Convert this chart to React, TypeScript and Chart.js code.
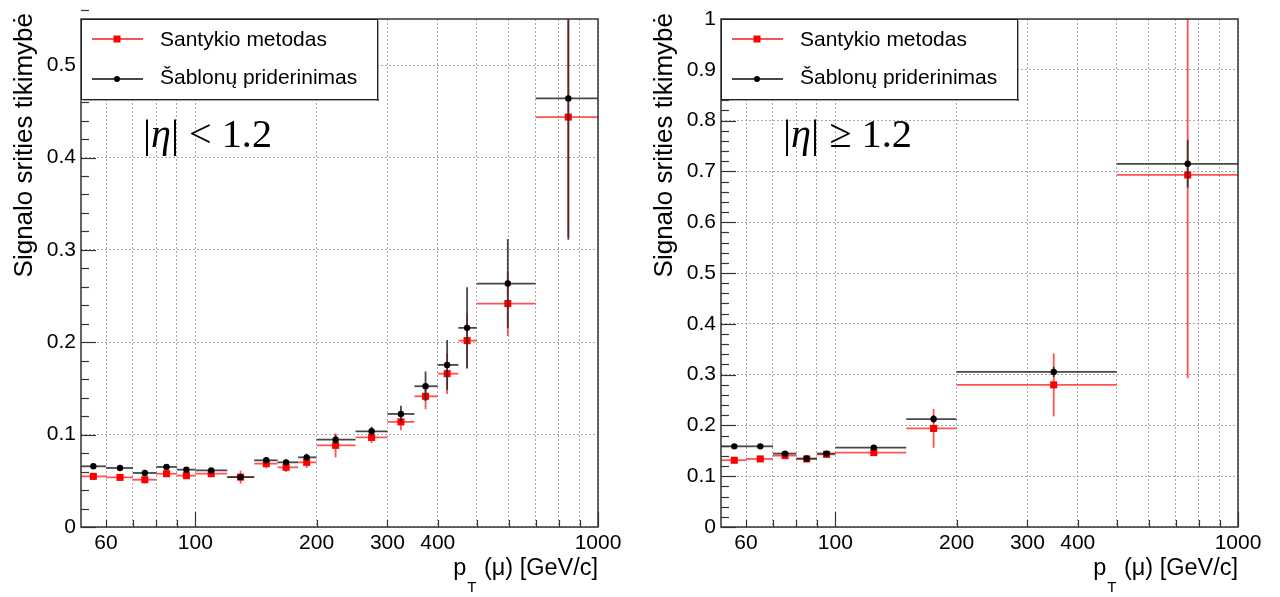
import React, { useEffect, useRef } from "react";
import { Chart, registerables } from "chart.js";
Chart.register(...registerables);

const SANS = "'Liberation Sans', Arial, sans-serif";
const SERIF = "'Liberation Serif', 'Times New Roman', serif";

// ---------- Left panel: |eta| < 1.2 ----------
const leftBinLow = [52, 60, 70, 80, 90, 100, 120, 140, 160, 180, 200, 250, 300, 350, 400, 450, 500, 700];
const leftBinHigh = [60, 70, 80, 90, 100, 120, 140, 160, 180, 200, 250, 300, 350, 400, 450, 500, 700, 1000];
const leftPt = [55.8, 65, 74.9, 84.8, 95, 109.5, 129.5, 150, 168, 189, 223, 274, 324, 373, 422, 473, 597, 844];
const leftRatio = [0.0548, 0.0537, 0.0512, 0.0577, 0.0556, 0.0577, 0.054, 0.0686, 0.0646, 0.07, 0.0884, 0.097, 0.1138, 0.1415, 0.166, 0.2018, 0.2419, 0.4438];
const leftRatioErr = [0.003, 0.003, 0.004, 0.003, 0.003, 0.003, 0.007, 0.005, 0.005, 0.006, 0.013, 0.006, 0.009, 0.014, 0.022, 0.03, 0.035, 0.13];
const leftFit = [0.0657, 0.0639, 0.0585, 0.065, 0.0621, 0.0613, 0.054, 0.0722, 0.07, 0.0754, 0.0946, 0.1036, 0.1224, 0.1524, 0.1755, 0.2156, 0.2636, 0.464];
const leftFitErr = [0.002, 0.002, 0.003, 0.002, 0.002, 0.002, 0.003, 0.003, 0.003, 0.004, 0.005, 0.005, 0.009, 0.016, 0.027, 0.044, 0.048, 0.153];
const leftYTicks = [0, 0.1, 0.2, 0.3, 0.4, 0.5];
const leftYMax = 0.55;
const leftEtaText = ["|", "η", "|", " < 1.2"];

// ---------- Right panel: |eta| >= 1.2 ----------
const rightBinLow = [52, 60, 70, 80, 90, 100, 150, 200, 500];
const rightBinHigh = [60, 70, 80, 90, 100, 150, 200, 500, 1000];
const rightPt = [56.1, 65.1, 75, 84.9, 95.1, 124.6, 175.4, 348.6, 750];
const rightRatio = [0.1314, 0.134, 0.1406, 0.134, 0.143, 0.1464, 0.194, 0.2798, 0.693];
const rightRatioErr = [0.004, 0.004, 0.006, 0.005, 0.006, 0.006, 0.038, 0.062, 0.4];
const rightFit = [0.1588, 0.1588, 0.1445, 0.1347, 0.1445, 0.1563, 0.2125, 0.3053, 0.715];
const rightFitErr = [0.003, 0.003, 0.005, 0.004, 0.004, 0.004, 0.008, 0.01, 0.047];
const rightYTicks = [0, 0.1, 0.2, 0.3, 0.4, 0.5, 0.6, 0.7, 0.8, 0.9, 1];
const rightYMax = 1.0;
const rightEtaText = ["|", "η", "|", " ≥ 1.2"];

// ---------- shared ----------
const xMin = 52;
const xMax = 1000;
const xTickValues = [60, 70, 80, 90, 100, 200, 300, 400, 500, 600, 700, 800, 900, 1000];
const xTickLabels = [60, 100, 200, 300, 400, 1000];
const xMajorTicks = [100, 1000];
const yMinorStep = 0.02;
const legendLabels = ["Santykio metodas", "Šablonų priderinimas"];
const yTitle = "Signalo srities tikimybė";
const xTitleMain = "p";
const xTitleSub = "T";
const xTitleRest = " (μ) [GeV/c]";

type PanelData = {
  binLow: number[];
  binHigh: number[];
  pt: number[];
  ratio: number[];
  ratioErr: number[];
  fit: number[];
  fitErr: number[];
  yTicks: number[];
  yMax: number;
  eta: string[];
};

const RED_LINE = "rgba(255,40,40,0.8)";
const BLACK_LINE = "rgba(40,40,40,0.85)";

function makePlugin(d: PanelData) {
  return {
    id: "rootStyle",
    beforeDatasetDraw(chart: any, args: any) {
      const ctx = chart.ctx;
      const ca = chart.chartArea;
      const xs = chart.scales.x;
      const ys = chart.scales.y;
      const isRed = args.index === 1;
      const vals = isRed ? d.ratio : d.fit;
      const errs = isRed ? d.ratioErr : d.fitErr;
      ctx.save();
      ctx.beginPath();
      ctx.rect(ca.left, ca.top, ca.right - ca.left, ca.bottom - ca.top);
      ctx.clip();
      ctx.strokeStyle = isRed ? RED_LINE : BLACK_LINE;
      ctx.lineWidth = 1.8;
      for (let i = 0; i < vals.length; i++) {
        const y = ys.getPixelForValue(vals[i]);
        const x = xs.getPixelForValue(d.pt[i]);
        ctx.beginPath();
        ctx.moveTo(xs.getPixelForValue(d.binLow[i]), y);
        ctx.lineTo(xs.getPixelForValue(d.binHigh[i]), y);
        ctx.stroke();
        ctx.beginPath();
        ctx.moveTo(x, ys.getPixelForValue(vals[i] - errs[i]));
        ctx.lineTo(x, ys.getPixelForValue(vals[i] + errs[i]));
        ctx.stroke();
      }
      ctx.restore();
    },
    afterDraw(chart: any) {
      const ctx = chart.ctx;
      const ca = chart.chartArea;
      const xs = chart.scales.x;
      const ys = chart.scales.y;
      ctx.save();
      // frame
      ctx.strokeStyle = "#333";
      ctx.lineWidth = 1.5;
      ctx.strokeRect(ca.left, ca.top, ca.right - ca.left, ca.bottom - ca.top);
      // y ticks (inside)
      ctx.lineWidth = 1.2;
      ctx.strokeStyle = "#333";
      const nMinor = Math.round(d.yMax / yMinorStep);
      for (let i = 0; i <= nMinor; i++) {
        const v = i * yMinorStep;
        const y = Math.round(ys.getPixelForValue(v)) + 0.5;
        const len = i % 5 === 0 ? 15 : 8;
        ctx.beginPath();
        ctx.moveTo(ca.left, y);
        ctx.lineTo(ca.left + len, y);
        ctx.stroke();
      }
      // x ticks (inside)
      for (const v of xTickValues) {
        const x = Math.round(xs.getPixelForValue(v)) + 0.5;
        const len = xMajorTicks.includes(v) ? 15 : 7;
        ctx.beginPath();
        ctx.moveTo(x, ca.bottom);
        ctx.lineTo(x, ca.bottom - len);
        ctx.stroke();
      }
      // legend
      const lx = ca.left;
      const ly = ca.top;
      const lw = 296;
      const lh = 80;
      ctx.fillStyle = "#fff";
      ctx.fillRect(lx, ly, lw, lh);
      ctx.fillStyle = "#555";
      ctx.fillRect(lx + lw, ly + 2, 1.5, lh);
      ctx.fillRect(lx + 2, ly + lh, lw, 1.5);
      ctx.strokeStyle = "#222";
      ctx.lineWidth = 1;
      ctx.strokeRect(lx + 0.5, ly + 0.5, lw, lh);
      const rows = [ly + 20, ly + 60];
      // red entry
      ctx.lineWidth = 1.8;
      ctx.strokeStyle = RED_LINE;
      ctx.beginPath();
      ctx.moveTo(lx + 11, rows[0]);
      ctx.lineTo(lx + 62, rows[0]);
      ctx.stroke();
      ctx.fillStyle = "#ff0000";
      ctx.fillRect(lx + 36 - 3.5, rows[0] - 3.5, 7, 7);
      // black entry
      ctx.strokeStyle = BLACK_LINE;
      ctx.beginPath();
      ctx.moveTo(lx + 11, rows[1]);
      ctx.lineTo(lx + 62, rows[1]);
      ctx.stroke();
      ctx.fillStyle = "#000";
      ctx.beginPath();
      ctx.arc(lx + 36, rows[1], 3, 0, Math.PI * 2);
      ctx.fill();
      ctx.font = `21px ${SANS}`;
      ctx.textBaseline = "middle";
      ctx.textAlign = "left";
      ctx.fillStyle = "#000";
      ctx.fillText(legendLabels[0], lx + 79, rows[0] + 1);
      ctx.fillText(legendLabels[1], lx + 79, rows[1] - 1);

      // eta annotation
      const baseSize = 36;
      const fonts = [`${baseSize}px ${SERIF}`, `italic ${baseSize}px ${SERIF}`, `${baseSize}px ${SERIF}`, `${baseSize}px ${SERIF}`];
      let total = 0;
      for (let i = 0; i < d.eta.length; i++) {
        ctx.font = fonts[i];
        total += ctx.measureText(d.eta[i]).width;
      }
      const scale = 129 / total;
      const fs = baseSize * scale;
      let ex = ca.left + 62;
      const ey = ca.top + 128;
      ctx.textBaseline = "alphabetic";
      for (let i = 0; i < d.eta.length; i++) {
        ctx.font = (i === 1 ? "italic " : "") + `${fs}px ${SERIF}`;
        ctx.fillText(d.eta[i], ex, ey);
        ex += ctx.measureText(d.eta[i]).width;
      }

      // x title
      const mainFont = `23.5px ${SANS}`;
      const subFont = `15px ${SANS}`;
      ctx.font = mainFont;
      const wMain = ctx.measureText(xTitleMain).width;
      const wRest = ctx.measureText(xTitleRest).width;
      ctx.font = subFont;
      const wSub = ctx.measureText(xTitleSub).width;
      let tx = ca.right - (wMain + wSub + 2 + wRest);
      const tb = 575;
      ctx.font = mainFont;
      ctx.fillText(xTitleMain, tx, tb);
      tx += wMain + 1;
      ctx.font = subFont;
      ctx.fillText(xTitleSub, tx, tb + 17);
      tx += wSub + 1;
      ctx.font = mainFont;
      ctx.fillText(xTitleRest, tx, tb);

      // y title
      ctx.save();
      ctx.translate(32, 13);
      ctx.rotate(-Math.PI / 2);
      ctx.font = `26px ${SANS}`;
      ctx.textAlign = "right";
      ctx.textBaseline = "alphabetic";
      ctx.fillText(yTitle, 0, 0);
      ctx.restore();

      ctx.restore();
    },
  };
}

function buildConfig(d: PanelData): any {
  return {
    type: "scatter",
    data: {
      datasets: [
        {
          label: legendLabels[1],
          data: d.pt.map((x, i) => ({ x, y: d.fit[i] })),
          pointStyle: "circle",
          pointRadius: 3.2,
          pointHoverRadius: 3.2,
          backgroundColor: "#000",
          borderColor: "#000",
          borderWidth: 0,
          showLine: false,
        },
        {
          label: legendLabels[0],
          data: d.pt.map((x, i) => ({ x, y: d.ratio[i] })),
          pointStyle: "rect",
          pointRadius: 5,
          pointHoverRadius: 5,
          backgroundColor: "#ff0000",
          borderColor: "#ff0000",
          borderWidth: 0,
          showLine: false,
        },
      ],
    },
    options: {
      animation: false,
      responsive: false,
      events: [],
      layout: { padding: { left: 0, right: 42, top: 19, bottom: 0 } },
      plugins: { legend: { display: false }, tooltip: { enabled: false } },
      scales: {
        x: {
          type: "logarithmic",
          min: xMin,
          max: xMax,
          bounds: "data",
          afterBuildTicks: (s: any) => {
            s.ticks = xTickValues.map((v) => ({ value: v }));
          },
          afterFit: (s: any) => {
            s.height = 70;
          },
          grid: { color: "#aaa", lineWidth: 1, drawTicks: false },
          border: { display: false, dash: [2, 2] },
          ticks: {
            autoSkip: false,
            maxRotation: 0,
            padding: 4,
            color: "#000",
            font: { family: SANS, size: 21 },
            callback: (v: any) => (xTickLabels.includes(Number(v)) ? String(v) : ""),
          },
        },
        y: {
          type: "linear",
          min: 0,
          max: d.yMax,
          bounds: "data",
          afterBuildTicks: (s: any) => {
            s.ticks = d.yTicks.map((v) => ({ value: v }));
          },
          afterFit: (s: any) => {
            s.width = 81;
          },
          grid: { color: "#aaa", lineWidth: 1, drawTicks: false },
          border: { display: false, dash: [2, 2] },
          ticks: {
            padding: 5,
            color: "#000",
            font: { family: SANS, size: 21 },
            callback: (v: any) => String(parseFloat(Number(v).toFixed(2))),
          },
        },
      },
    },
    plugins: [makePlugin(d)],
  };
}

const leftPanel: PanelData = {
  binLow: leftBinLow,
  binHigh: leftBinHigh,
  pt: leftPt,
  ratio: leftRatio,
  ratioErr: leftRatioErr,
  fit: leftFit,
  fitErr: leftFitErr,
  yTicks: leftYTicks,
  yMax: leftYMax,
  eta: leftEtaText,
};

const rightPanel: PanelData = {
  binLow: rightBinLow,
  binHigh: rightBinHigh,
  pt: rightPt,
  ratio: rightRatio,
  ratioErr: rightRatioErr,
  fit: rightFit,
  fitErr: rightFitErr,
  yTicks: rightYTicks,
  yMax: rightYMax,
  eta: rightEtaText,
};

function Panel({ data, left }: { data: PanelData; left: number }) {
  const ref = useRef<HTMLCanvasElement>(null);
  useEffect(() => {
    const chart = new Chart(ref.current as HTMLCanvasElement, buildConfig(data));
    return () => chart.destroy();
  }, [data]);
  return (
    <canvas
      ref={ref}
      width={640}
      height={597}
      style={{ position: "absolute", left, top: 0, width: 640, height: 597 }}
    />
  );
}

export default function App() {
  return (
    <div style={{ position: "fixed", left: 0, top: 0, width: 1280, height: 597, background: "#fff", overflow: "hidden" }}>
      <Panel data={leftPanel} left={0} />
      <Panel data={rightPanel} left={640} />
    </div>
  );
}
